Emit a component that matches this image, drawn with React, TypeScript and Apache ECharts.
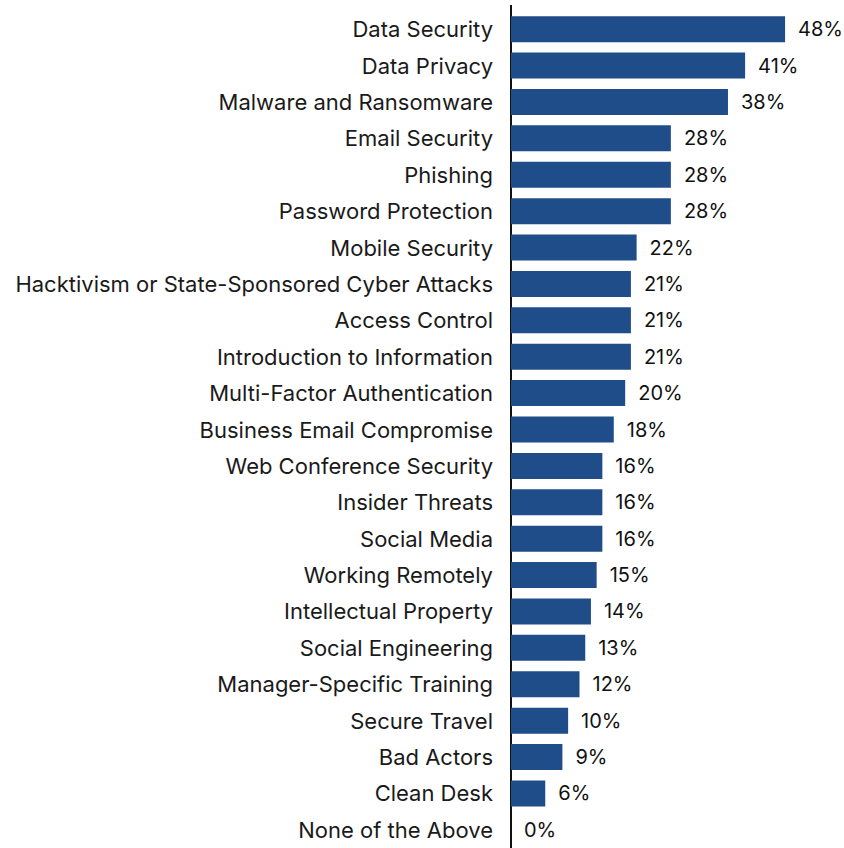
import React, { useEffect, useRef } from "react";
import * as echarts from "echarts";

const categories = [
  "Data Security",
  "Data Privacy",
  "Malware and Ransomware",
  "Email Security",
  "Phishing",
  "Password Protection",
  "Mobile Security",
  "Hacktivism or State-Sponsored Cyber Attacks",
  "Access Control",
  "Introduction to Information",
  "Multi-Factor Authentication",
  "Business Email Compromise",
  "Web Conference Security",
  "Insider Threats",
  "Social Media",
  "Working Remotely",
  "Intellectual Property",
  "Social Engineering",
  "Manager-Specific Training",
  "Secure Travel",
  "Bad Actors",
  "Clean Desk",
  "None of the Above",
];

const values = [48, 41, 38, 28, 28, 28, 22, 21, 21, 21, 20, 18, 16, 16, 16, 15, 14, 13, 12, 10, 9, 6, 0];

const FONT = "Inter, 'Noto Sans', sans-serif";
const AXIS_COLOR = "#111111";

export default function App() {
  const ref = useRef<HTMLDivElement>(null);

  useEffect(() => {
    if (!ref.current) return;
    const chart = echarts.init(ref.current, undefined, { renderer: "svg" });
    chart.setOption({
      animation: false,
      backgroundColor: "#ffffff",
      grid: { left: 511, top: 11, width: 285.5, height: 839.5 },
      xAxis: {
        type: "value",
        min: 0,
        max: 50,
        show: false,
      },
      yAxis: {
        type: "category",
        inverse: true,
        data: categories,
        axisLine: { show: true, lineStyle: { color: AXIS_COLOR, width: 2 } },
        axisTick: { show: false },
        axisLabel: {
          margin: 18,
          fontFamily: FONT,
          fontSize: 22,
          color: "#1a1a1a",
        },
        splitLine: { show: false },
      },
      // short lead-in so the axis rule starts a little above the first bar
      graphic: [
        {
          type: "line",
          shape: { x1: 511, y1: 5, x2: 511, y2: 12 },
          style: { stroke: AXIS_COLOR, lineWidth: 2 },
          silent: true,
        },
      ],
      series: [
        {
          type: "bar",
          data: values,
          barWidth: 26,
          itemStyle: { color: "#1F4D89" },
          label: {
            show: true,
            position: "right",
            distance: 13,
            formatter: "{c}%",
            fontFamily: FONT,
            fontSize: 20,
            fontWeight: 400,
            color: "#111111",
          },
        },
      ],
    });
    return () => chart.dispose();
  }, []);

  return <div ref={ref} style={{ width: 844, height: 848, position: "absolute", left: 0, top: 0 }} />;
}
